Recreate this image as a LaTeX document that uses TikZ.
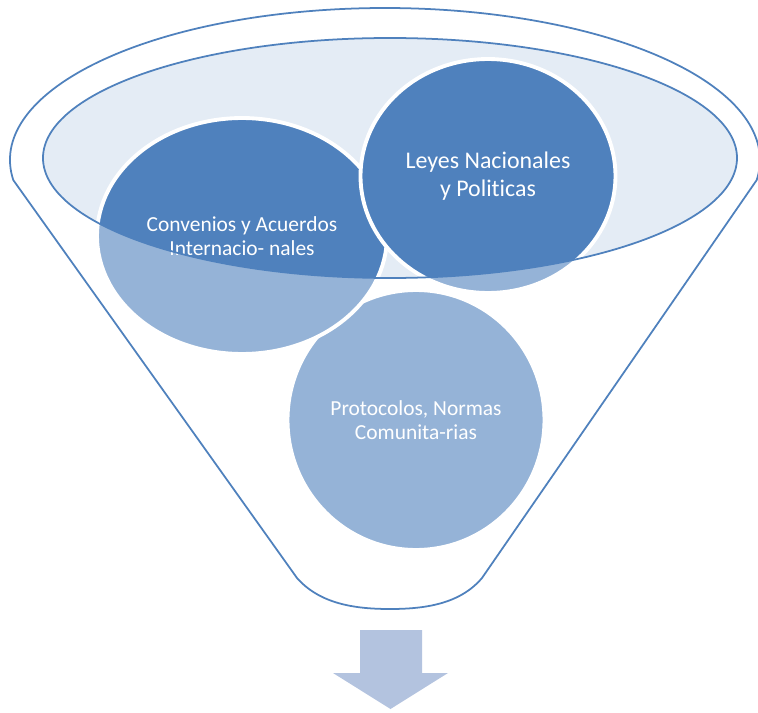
\documentclass[tikz,border=0pt]{standalone}
\usepackage{fontspec}
\setmainfont[Ligatures=NoCommon]{Carlito}
\usetikzlibrary{shapes.geometric}
\definecolor{accentblue}{HTML}{4F81BD}
\definecolor{arrowblue}{HTML}{B3C3DF}
\begin{document}
\begin{tikzpicture}[x=0.02cm,y=-0.02cm]
	\tikzstyle{bubble}=[ellipse,fill=accentblue,draw=white,line width=2.2pt,text=white,align=center,inner sep=0pt]
	\tikzstyle{rim}=[draw=accentblue,line width=1pt]
	\useasboundingbox (0,0) rectangle (758,713);
	\fill[accentblue!15] (390,158) ellipse [x radius=347,y radius=120];
	\node[bubble,minimum width=5.14cm,minimum height=5.2cm,font=\fontsize{12.2}{13.6}\selectfont] (protocolos) at (416,420) {Protocolos, Normas\\Comunita-rias};
	\node[bubble,minimum width=5.8cm,minimum height=4.72cm,font=\fontsize{12.2}{13.6}\selectfont] (convenios) at (242,236) {Convenios y Acuerdos\\Internacio- nales};
	\node[bubble,minimum width=5.1cm,minimum height=4.68cm,font=\fontsize{13.6}{15.9}\selectfont] (leyes) at (488,176) {Leyes Nacionales\\y Politicas};
	\fill[white,opacity=0.4,even odd rule] (0,0) rectangle (758,713) (390,158) ellipse [x radius=347,y radius=120];
	\draw[rim] (390,158) ellipse [x radius=347,y radius=120];
	\draw[rim] (13.3,180.1) arc [start angle=172.4,end angle=367.6,x radius=375,y radius=152] -- (482,578)
		.. controls (460,604) and (425,609) .. (390,609) .. controls (355,609) and (320,604) .. (297,578) -- cycle;
	\fill[arrowblue] (360,630) -- (422,630) -- (422,673) -- (448,673) -- (390.5,709) -- (333,673) -- (360,673) -- cycle;
\end{tikzpicture}
\end{document}
